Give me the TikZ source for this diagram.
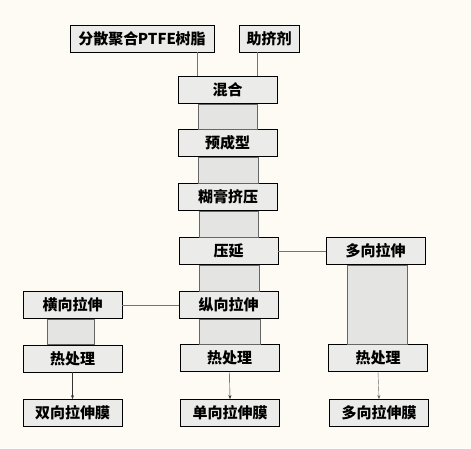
\documentclass[tikz,border=0pt]{standalone}
\usepackage{fontspec}
\newfontfamily\cjk{Noto Sans CJK SC}
\usetikzlibrary{arrows.meta}
\definecolor{paper}{HTML}{FDFBF4}
\definecolor{boxfill}{HTML}{EBEBEA}
\definecolor{bandfill}{HTML}{E4E4E2}

\begin{document}
\begin{tikzpicture}[x=1pt, y=-1pt,
    box/.style={draw, thick, fill=boxfill, rectangle, minimum width=99pt, minimum height=27pt, inner sep=0pt, font=\cjk\bfseries\fontsize{15}{17}\selectfont},
    band/.style={draw=black!60, thin, fill=bandfill},
    link/.style={draw=black!55, thin}]
    \fill[paper] (0,0) rectangle (471,448);
    \useasboundingbox (0,0) rectangle (471,448);

    % 原料
    \node[box, minimum width=144pt] (resin) at (142,38.5) {分散聚合\kern-0.5pt PTFE\kern-0.5pt 树脂};
    \node[box, minimum width=60pt] (aid) at (269,38.5) {助挤剂};

    % 主线
    \node[box] (mix) at (227.5,90) {混合};
    \node[box] (preform) at (227.5,143) {预成型};
    \node[box] (extrude) at (228,197) {糊膏挤压};
    \node[box] (calender) at (228.5,251) {压延};
    \node[box] (longi) at (228.5,305) {纵向拉伸};
    \node[box] (heat2) at (229.5,358) {热处理};
    \node[box] (film2) at (230,413) {单向拉伸膜};

    % 左列
    \node[box] (trans) at (72.5,305) {横向拉伸};
    \node[box] (heat1) at (72.5,358.5) {热处理};
    \node[box] (film1) at (72.5,413) {双向拉伸膜};

    % 右列
    \node[box] (multi) at (375.5,251) {多向拉伸};
    \node[box] (heat3) at (378,358) {热处理};
    \node[box] (film3) at (379,413) {多向拉伸膜};

    % 原料到混合
    \draw[link] ([xshift=55pt]resin.south) -- ([xshift=55pt]resin.south |- mix.north);
    \draw[link] ([xshift=-12pt]aid.south) -- ([xshift=-12pt]aid.south |- mix.north);

    % 连接带
    \draw[band] ([xshift=-29.5pt]mix.south) rectangle ([xshift=30pt]preform.north);
    \draw[band] ([xshift=-29.5pt]preform.south) rectangle ([xshift=30pt]extrude.north);
    \draw[band] ([xshift=-29pt]extrude.south) rectangle ([xshift=30pt]calender.north);
    \draw[band] ([xshift=-29.5pt]calender.south) rectangle ([xshift=30.5pt]longi.north);
    \draw[band] ([xshift=-29pt]longi.south) rectangle ([xshift=30.5pt]heat2.north);
    \draw[band] ([xshift=-25.5pt]trans.south) rectangle ([xshift=21.5pt]heat1.north);
    \draw[band] ([xshift=-28.5pt]multi.south) rectangle ([xshift=31.5pt]multi.south |- heat3.north);

    % 横向连线
    \draw[link] (calender.east) -- (multi.west);
    \draw[link] (trans.east) -- (longi.west);

    % 成膜
    \draw[-{Stealth[length=4pt, width=3pt]}, black!80] (heat1.south) -- (film1.north);
    \draw[-{Stealth[length=4pt, width=3pt]}, black!80] (heat2.south) -- (film2.north);
    \draw[-{Stealth[length=4pt, width=3pt]}, black!60] (heat3.south) -- (film3.north);
\end{tikzpicture}
\end{document}
